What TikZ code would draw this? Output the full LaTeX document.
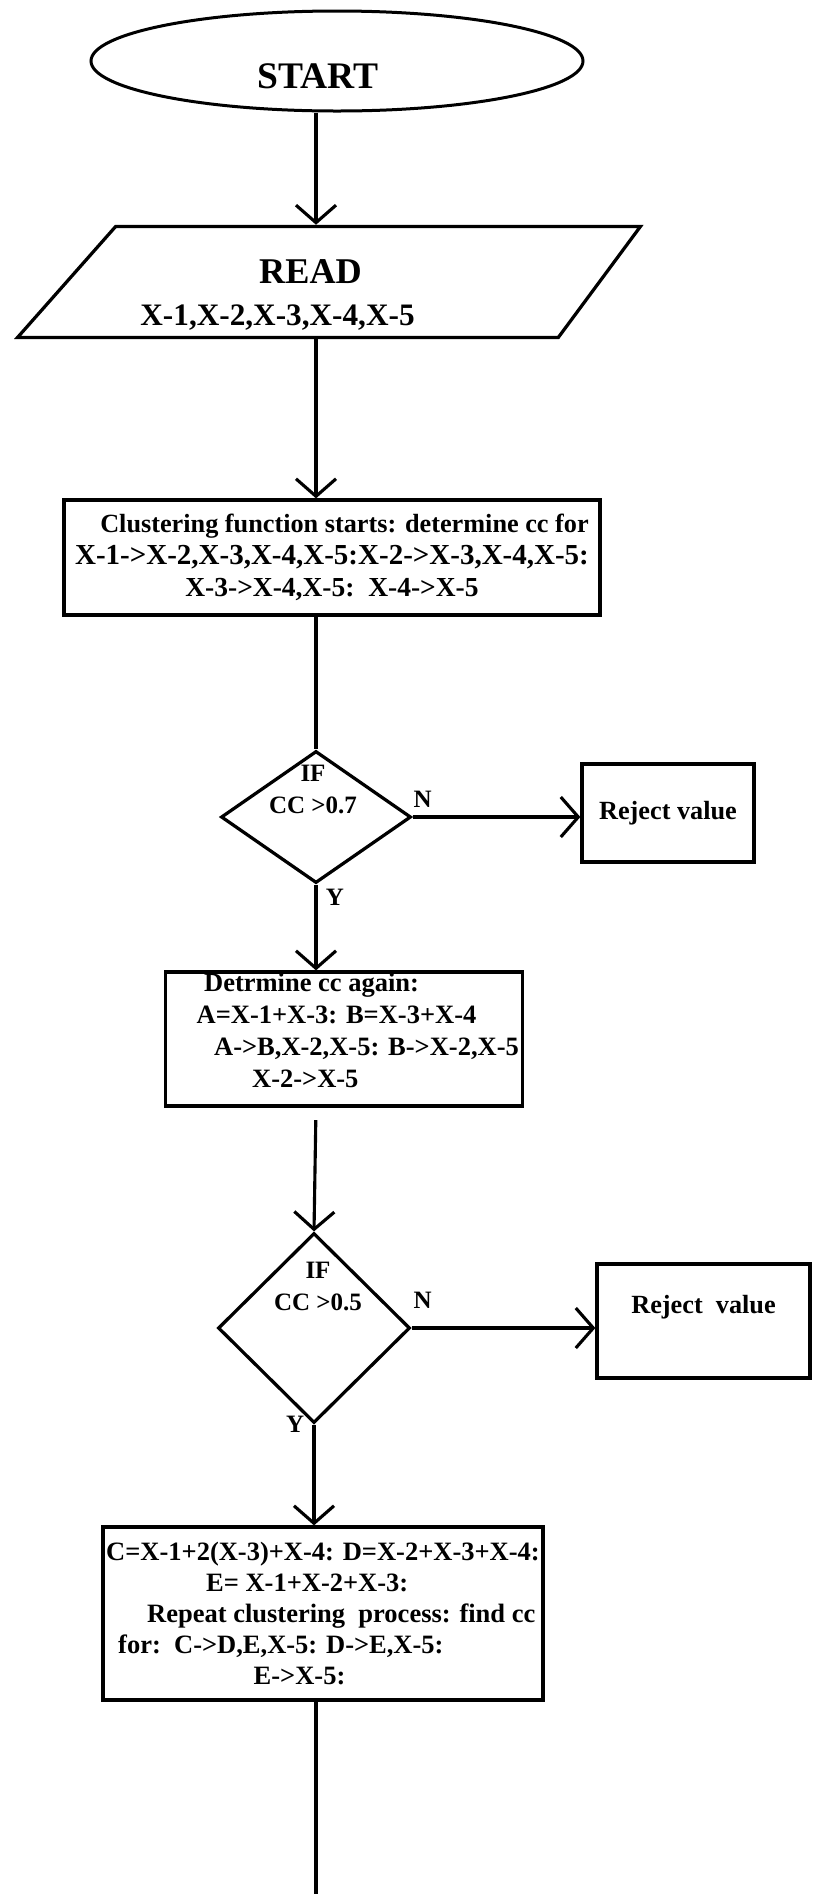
\documentclass[tikz,border=0pt]{standalone}
\usepackage{fontspec}
\setmainfont{Liberation Serif}
\usetikzlibrary{arrows.meta}
\usetikzlibrary{shapes.geometric}
\tikzset{
	>={Straight Barb[length=7pt, width=16pt]},
	every node/.style={align=center, font=\bfseries},
	%
	terminal/.style={ellipse, draw, line width=1.2pt, inner sep=0pt,
		minimum width=196.8pt, minimum height=40pt},
	io/.style={trapezium, trapezium left angle=48, trapezium right angle=127,
		trapezium stretches=true, draw, line width=1.3pt, inner sep=0pt},
	block/.style={draw, line width=1.3pt, inner sep=1pt},
	decision/.style={diamond, draw, line width=1.3pt, inner sep=0pt},
	answer/.style={font=\bfseries\fontsize{10pt}{12pt}\selectfont},
	%
	flow/.style={->, line width=1.25pt},
	link/.style={line width=1.25pt},
}

\begin{document}
\begin{tikzpicture}[x=0.4pt, y=-0.4pt]
	\useasboundingbox (0,0) rectangle (817,1894);
	\coordinate (spine) at (316,0);
	\coordinate (tail) at (316,1894);
	%
	\node (start) [terminal, font=\bfseries\fontsize{15pt}{17pt}\selectfont,
		text height=22pt, text depth=0pt] at (337,61) {START\hspace*{15.2pt}};
	\node (read) [io, minimum width=249.2pt, minimum height=44.4pt,
		anchor=bottom left corner, font=\bfseries\fontsize{12.5pt}{16.8pt}\selectfont]
		at (14,339)
		{{\fontsize{14.5pt}{16.8pt}\selectfont\rule{0pt}{20pt}READ\hspace*{21.2pt}}\\
		X-1,X-2,X-3,X-4,X-5\hspace*{47.6pt}};
	\node (cluster) [block, minimum width=214.4pt, minimum height=46pt,
		font=\bfseries\fontsize{11pt}{12.8pt}\selectfont] at (332,557.5)
		{{\fontsize{10.5pt}{12.8pt}\selectfont
			\hspace*{10pt}Clustering function starts: determine cc for}\\
		{\fontsize{11.6pt}{12.8pt}\selectfont
			X-1->X-2,X-3,X-4,X-5:X-2->X-3,X-4,X-5:}\\
		X-3->X-4,X-5:\ \ X-4->X-5};
	\node (cond1) [decision, minimum width=76pt, minimum height=52.8pt]
		at (316,817) {};
	\node (cond1-text) [font=\bfseries\fontsize{10pt}{12.8pt}\selectfont]
		at (313,789) {IF\\CC >0.7};
	\node (reject1) [block, minimum width=68.8pt, minimum height=39.2pt,
		font=\bfseries\fontsize{10.5pt}{12pt}\selectfont] at (668,813)
		{Reject value};
	\node (again) [block, align=left, inner ysep=0pt, minimum width=142.8pt,
		minimum height=53.6pt, font=\bfseries\fontsize{10.6pt}{12.8pt}\selectfont]
		at (344,1039)
		{\hspace*{14pt}Detrmine cc again:\\
		\hspace*{11pt}A=X-1+X-3: B=X-3+X-4\\
		\hspace*{18pt}A->B,X-2,X-5: B->X-2,X-5\\
		\hspace*{33.2pt}X-2->X-5\rule[-7pt]{0pt}{7pt}};
	\node (cond2) [decision, minimum width=76.8pt, minimum height=76pt]
		at (314,1328) {};
	\node (cond2-text) [font=\bfseries\fontsize{10pt}{12.8pt}\selectfont]
		at (318,1286) {IF\\CC >0.5};
	\node (reject2) [block, minimum width=85.2pt, minimum height=45.6pt,
		font=\bfseries\fontsize{10.5pt}{12pt}\selectfont,
		text height=7pt, text depth=13pt] at (703.5,1321)
		{Reject\ \ value};
	\node (repeat) [block, align=left, minimum width=176pt, minimum height=69.2pt,
		font=\bfseries\fontsize{10.6pt}{12.4pt}\selectfont] at (323,1613.5)
		{C=X-1+2(X-3)+X-4: D=X-2+X-3+X-4:\\
		\hspace*{40pt}E= X-1+X-2+X-3:\\
		\hspace*{16.4pt}Repeat clustering\ \ process: find cc\\
		\hspace*{4.8pt}for:\ \ C->D,E,X-5: D->E,X-5:\\
		\hspace*{59pt}E->X-5:};
	%
	\draw [flow] (start.south -| spine) -- (read.north -| spine);
	\draw [flow] (read.south -| spine) -- (cluster.north -| spine);
	\draw [link] (cluster.south -| spine) -- (cond1.north);
	\draw [flow] (cond1.east) -- node [answer, above, pos=0.06] {N}
		(cond1.east -| reject1.west);
	\draw [flow] (cond1.south) -- node [answer, right, pos=0.15] {Y}
		(cond1.south |- again.north);
	\draw [flow, shorten <=5pt] (again.south -| spine) -- (cond2.north);
	\draw [flow] (cond2.east) -- node [answer, above, pos=0.06, yshift=4pt] {N}
		(cond2.east -| reject2.west);
	\draw [flow] (cond2.south) -- node [answer, left, pos=0] {Y}
		(cond2.south |- repeat.north);
	\draw [link] (repeat.south -| spine) -- (tail);
\end{tikzpicture}
\end{document}
